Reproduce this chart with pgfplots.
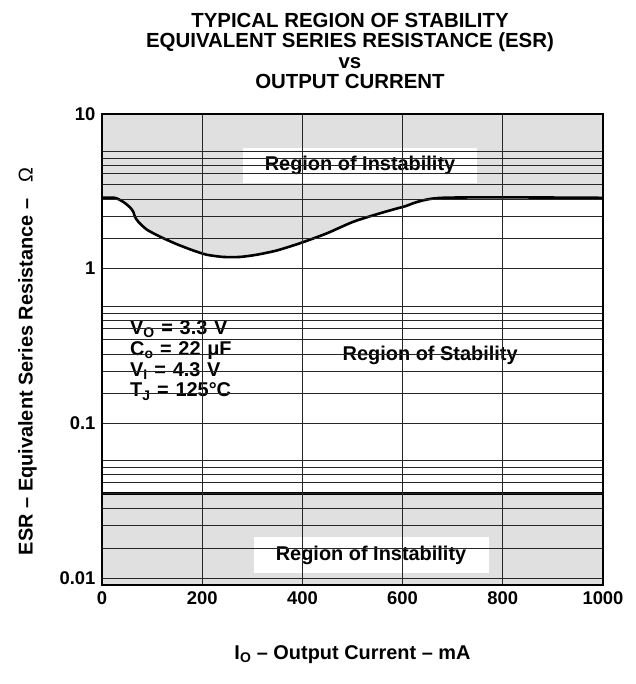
\documentclass[border=0pt]{standalone}
\usepackage{fontspec}
\setmainfont{Liberation Sans}
\usepackage{pgfplots}
\usepackage{pgfplotstable}
\pgfplotsset{compat=1.18}
\usepgfplotslibrary{fillbetween}
\definecolor{fillgray}{RGB}{224,224,224}
\newcommand{\fs}[1]{\fontsize{#1}{#1}\selectfont\bfseries}

\pgfplotstableread{
x y
0 2.87
26 2.87
42.5 2.70
55.9 2.49
62.5 2.33
65.9 2.16
72.5 2.01
89.2 1.79
115.8 1.61
149.1 1.44
182.2 1.31
209 1.23
242 1.19
275.4 1.19
308.8 1.23
348.7 1.31
395.2 1.46
448.5 1.69
501.6 2.01
554.9 2.28
601.4 2.51
678 2.87
1000 2.87
}\curvedata

\begin{document}
\begin{tikzpicture}
\begin{axis}[
  at={(0,0)}, anchor=south west,
  scale only axis, width=501bp, height=471bp,
  xmin=0, xmax=1000, ymode=log, ymin=0.009, ymax=10,
  axis on top,
  xtick={0,200,400,600,800,1000},
  xticklabels={0,200,400,600,800,1000},
  ytick={0.01,0.1,1,10},
  yticklabels={0.01,0.1,1,10},
  major tick length=0pt,
  minor tick length=0pt,
  grid=major,
  major grid style={black!85, line width=0.8bp},
  axis line style={line width=1.6bp},
  extra y ticks={0.0156,0.0217,0.028,0.035,0.0412,0.0464,0.0515,0.0572,
                 0.156,0.217,0.28,0.35,0.412,0.464,0.515,0.572,
                 1.56,2.17,2.80,3.50,4.12,4.64,5.15,5.72},
  extra y tick labels={},
  extra y tick style={grid=major, major tick length=0pt},
  tick label style={font=\fs{18.5}},
  xticklabel style={yshift=-3bp},
  yticklabel style={xshift=-3bp},
  /pgf/number format/assume math mode=true,
  xlabel={I\textsubscript{O} – Output Current – mA},
  ylabel={ESR – Equivalent Series Resistance –\hspace{16bp}{\mdseries Ω}},
  label style={font=\fs{20}},
  xlabel style={at={(axis description cs:0.5,-0.1486)}, anchor=center},
  ylabel style={at={(axis description cs:-0.1487,0.475)}, anchor=center},
]
\addplot[name path=curve, draw=none, forget plot] table[x=x,y=y] {\curvedata};
\addplot[name path=top, draw=none, forget plot] coordinates {(0,10) (1000,10)};
\addplot[fillgray, draw=none, forget plot] fill between[of=curve and top];
\addplot[fill=fillgray, draw=none, forget plot] coordinates {(0,0.009) (1000,0.009) (1000,0.035) (0,0.035)} -- cycle;
\addplot[black, line width=2.6bp, smooth, tension=0.4] table[x=x,y=y] {\curvedata};
\addplot[black, line width=2.6bp] coordinates {(0,0.035) (1000,0.035)};
\coordinate (t1) at (axis cs:515,4.64);
\coordinate (t2) at (axis cs:655,0.275);
\coordinate (t3) at (axis cs:537,0.014);
\coordinate (t4) at (axis cs:29.9,0.524);
\end{axis}
\node[fill=white, minimum width=234bp, minimum height=35bp, inner sep=0pt, font=\fs{20}] at (t1) {Region of Instability};
\node[fill=white, minimum width=221bp, minimum height=33bp, inner sep=0pt, font=\fs{20}] at (t2) {Region of Stability};
\node[fill=white, minimum width=235bp, minimum height=36bp, inner sep=0pt, font=\fs{20}] at (t3) {Region of Instability};
\node[fill=white, anchor=north west, minimum width=136bp, minimum height=96bp, inner xsep=13bp, inner ysep=0pt, text width=110bp, align=left, font={\fontsize{20}{21}\selectfont\bfseries}] at (t4) {V\textsubscript{O} = 3.3 V\\C\textsubscript{o} = 22 μF\\V\textsubscript{I} = 4.3 V\\T\textsubscript{J} = 125°C};
\node[align=center, font={\fontsize{20.5}{20.5}\selectfont\bfseries}] at (248bp,534bp) {TYPICAL REGION OF STABILITY\\EQUIVALENT SERIES RESISTANCE (ESR)\\vs\\OUTPUT CURRENT};
\pgfresetboundingbox
\path[use as bounding box] (-102bp,-99bp) rectangle (534bp,585bp);
\end{tikzpicture}
\end{document}
